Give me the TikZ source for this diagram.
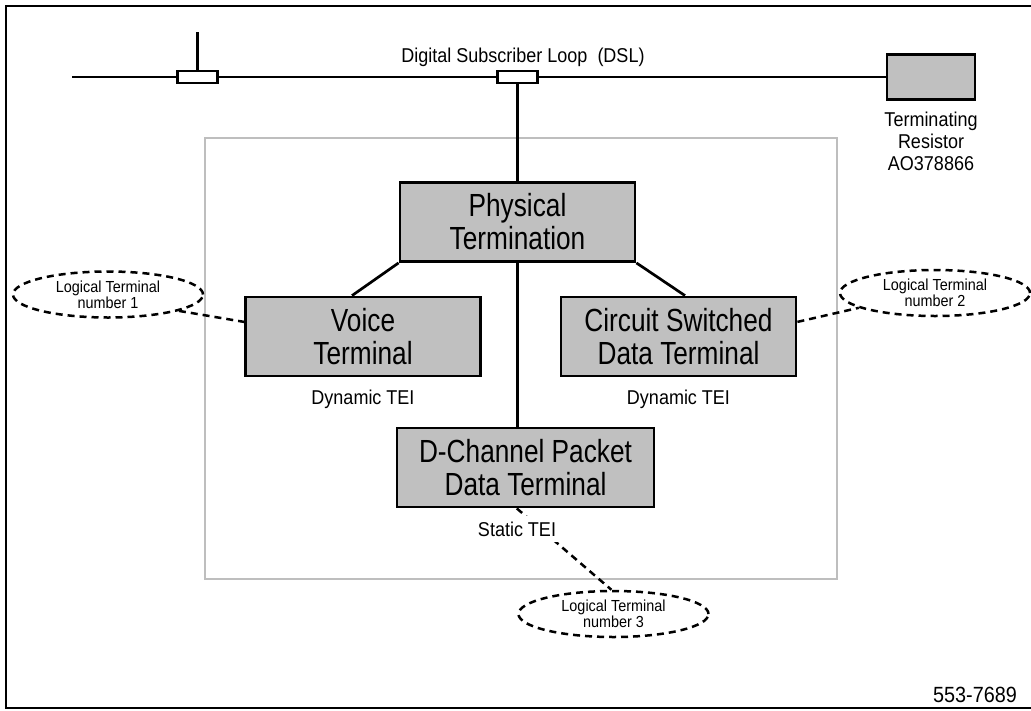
\documentclass[tikz,border=0pt]{standalone}
\usepackage{fontspec}
\setmainfont{Liberation Sans}
\newfontfamily\boxfont[FakeStretch=0.82]{Liberation Sans}
\newfontfamily\labelfont[FakeStretch=0.9]{Liberation Sans}
\usetikzlibrary{shapes.geometric}

\definecolor{boxgrey}{RGB}{192,192,192}
\definecolor{framegrey}{RGB}{190,190,190}

\tikzset{
  unitbox/.style={draw, line width=2.8pt, fill=boxgrey, minimum width=235pt,
    minimum height=79pt, inner sep=0pt, align=center,
    font=\boxfont\fontsize{32}{33}\selectfont},
  plug/.style={draw, line width=2.5pt, fill=white, minimum width=40pt,
    minimum height=12pt, inner sep=0pt},
  logterm/.style={ellipse, draw, line width=2.5pt, dash pattern=on 7pt off 5pt,
    minimum width=190pt, minimum height=46pt, inner sep=0pt, align=center,
    font=\labelfont\fontsize{16}{16}\selectfont},
  note/.style={inner sep=0pt, align=center, font=\labelfont\fontsize{20}{22}\selectfont},
  wire/.style={line width=2.7pt},
  dotwire/.style={line width=2.5pt, dash pattern=on 7pt off 5pt}
}

\begin{document}
\begin{tikzpicture}[x=1pt,y=-1pt]
  \useasboundingbox (0,0) rectangle (1031,710);

  % outer frame
  \draw[line width=2pt] (1040,6) -- (6,6) -- (6,708) -- (1040,708);

  % the loop
  \coordinate (dslstart) at (72,77);
  \coordinate (stub) at (197.5,32);
  \node (res) [draw, line width=2.8pt, fill=boxgrey, minimum width=88pt,
    minimum height=45pt] at (931,77) {};
  \draw[wire] (dslstart) -- (res.west);
  \node (plugL) [plug] at (197.5,77) {};
  \node (plugM) [plug] at (517.5,77) {};
  \draw[wire] (stub) -- (plugL.north);
  \node (dsllabel) [note, anchor=base] at (523,62) {Digital Subscriber Loop\ \ (DSL)};
  \node (reslabel) [note, anchor=north] at (931,112) {Terminating\\Resistor\\AO378866};

  % the terminal
  \draw[framegrey, line width=2pt] (205,138) rectangle (837,579);

  \node (phys) [unitbox] at (517.5,222) {Physical\\Termination};
  \node (voice) [unitbox] at (363,336.5) {Voice\\Terminal};
  \node (csd) [unitbox] at (678.5,336.5) {Circuit Switched\\Data Terminal};
  \node (dcp) [unitbox, minimum width=257pt] at (525.5,467.5) {D-Channel Packet\\Data Terminal};

  \draw[wire] (plugM.south) -- (phys.north);
  \draw[wire] (phys.south west) -- ([xshift=-11pt]voice.north);
  \draw[wire] (phys.south east) -- ([xshift=6.5pt]csd.north);
  \draw[wire] (phys.south) -- (phys.south |- dcp.north);

  \node (voicetei) [note, anchor=base] at (363,404) {Dynamic TEI};
  \node (csdtei) [note, anchor=base] at (678.5,404) {Dynamic TEI};

  % logical terminals
  \node (lt1) [logterm] at (108,294.5) {Logical Terminal\\number 1};
  \node (lt2) [logterm] at (935,293) {Logical Terminal\\number 2};
  \node (lt3) [logterm] at (613.5,614) {Logical Terminal\\number 3};

  \draw[dotwire] (lt1.-13) -- (voice.173);
  \draw[dotwire] (csd.7) -- (lt2.191);
  \draw[dotwire] (dcp.-102) -- (lt3.95);
  \node (dcptei) [note, anchor=base, fill=white, inner xsep=5pt, inner ysep=6pt] at (517,536) {Static TEI};

  \node (figno) [note, anchor=base east, font=\labelfont\fontsize{22}{22}\selectfont] at (1017,702) {553-7689};
\end{tikzpicture}
\end{document}
